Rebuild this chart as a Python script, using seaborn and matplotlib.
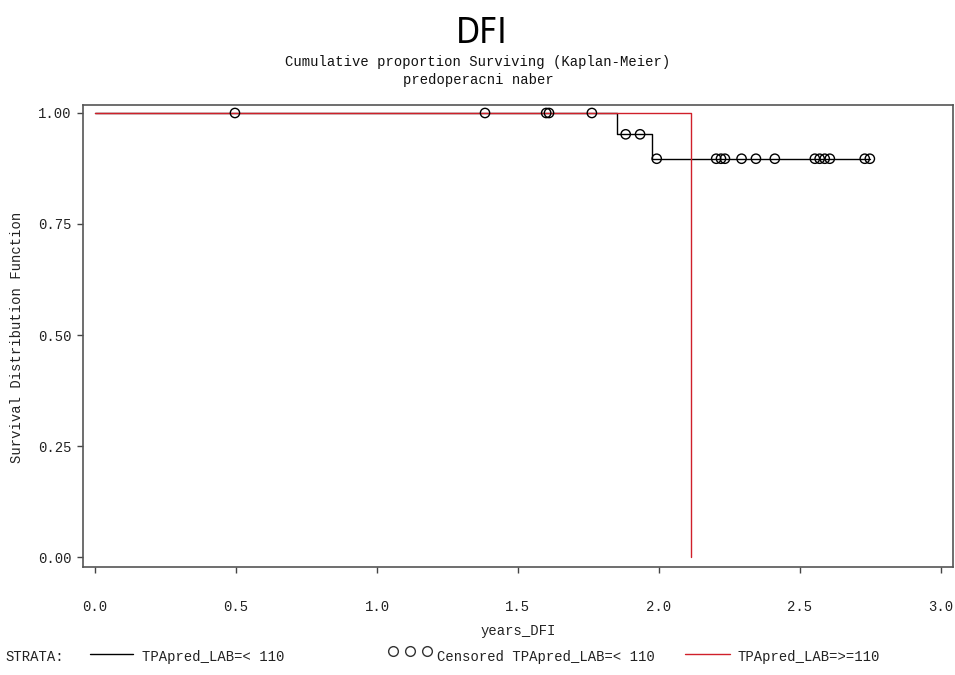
import matplotlib
matplotlib.use("Agg")
import matplotlib.pyplot as plt
from matplotlib.lines import Line2D
import seaborn as sns
import pandas as pd

# ---- data ----
low_times = [0.0, 1.852, 1.977, 2.748]
low_surv = [1.0, 0.952, 0.897, 0.897]
high_times = [0.0, 2.113]
high_surv = [1.0, 0.0]
cens_times = [0.496, 1.383, 1.600, 1.610, 1.762, 1.882, 1.933, 1.992,
              2.203, 2.220, 2.234, 2.293, 2.344, 2.411,
              2.553, 2.570, 2.588, 2.606, 2.730, 2.748]
cens_surv = [1.0, 1.0, 1.0, 1.0, 1.0, 0.952, 0.952, 0.897,
             0.897, 0.897, 0.897, 0.897, 0.897, 0.897,
             0.897, 0.897, 0.897, 0.897, 0.897, 0.897]
x_ticks = [0.0, 0.5, 1.0, 1.5, 2.0, 2.5, 3.0]
x_ticklabels = ["0.0", "0.5", "1.0", "1.5", "2.0", "2.5", "3.0"]
y_ticks = [0.0, 0.25, 0.5, 0.75, 1.0]
y_ticklabels = ["0.00", "0.25", "0.50", "0.75", "1.00"]

sns.set_theme(style="white")
MONO = ["Liberation Mono", "DejaVu Sans Mono"]
plt.rcParams["font.family"] = MONO

W, H = 955, 675
fig = plt.figure(figsize=(W / 100, H / 100), dpi=100)
ax = fig.add_axes([83 / W, 1 - 567 / H, (953 - 83) / W, (567 - 105) / H])

df_low = pd.DataFrame({"t": low_times, "s": low_surv})
df_high = pd.DataFrame({"t": high_times, "s": high_surv})
df_c = pd.DataFrame({"t": cens_times, "s": cens_surv})

sns.lineplot(data=df_low, x="t", y="s", ax=ax, color="black", lw=1.0,
             drawstyle="steps-post", estimator=None, sort=False)
sns.lineplot(data=df_high, x="t", y="s", ax=ax, color="#d0202a", lw=1.0,
             drawstyle="steps-post", estimator=None, sort=False)
sns.scatterplot(data=df_c, x="t", y="s", ax=ax, marker="o", s=45,
                facecolor="none", edgecolor="black", linewidth=1.0, zorder=5)

ax.set_xlim(-0.043, 3.043)
ax.set_ylim(-0.0225, 1.018)
ax.set_xticks(x_ticks)
ax.set_xticklabels(x_ticklabels)
ax.set_yticks(y_ticks)
ax.set_yticklabels(y_ticklabels)
ax.tick_params(axis="both", which="both", direction="out", length=4,
               width=1, color="#444444", labelsize=10, labelcolor="#222222")
ax.tick_params(axis="x", pad=20, bottom=True)
ax.tick_params(axis="y", pad=4, left=True)
for sp in ax.spines.values():
    sp.set_color("#555555")
    sp.set_linewidth(1.2)
ax.set_xlabel("")
ax.set_ylabel("")

# titles
fig.text(482 / W, 1 - 33 / H, "DFI", ha="center", va="center", fontsize=25,
         family=["DejaVu Sans", "Liberation Sans"], fontstretch="condensed",
         color="black")
fig.text(478 / W, 1 - 62 / H, "Cumulative proportion Surviving (Kaplan-Meier)",
         ha="center", va="center", fontsize=10, color="#111111")
fig.text(478 / W, 1 - 80 / H, "predoperacni naber",
         ha="center", va="center", fontsize=10, color="#111111")

# axis labels
fig.text(518 / W, 1 - 631 / H, "years_DFI", ha="center", va="center",
         fontsize=10, color="#222222")
fig.text(17 / W, 1 - 337 / H, "Survival Distribution Function", ha="center",
         va="center", rotation=90, fontsize=10, color="#222222")

# legend
ly = 1 - 657 / H
lly = 1 - 654 / H
fig.text(5 / W, ly, "STRATA:", ha="left", va="center", fontsize=10, color="#222222")
fig.add_artist(Line2D([90 / W, 133 / W], [lly, lly], transform=fig.transFigure,
                      color="black", lw=1.0))
fig.text(142 / W, ly, "TPApred_LAB=< 110", ha="left", va="center", fontsize=10,
         color="#222222")
fig.add_artist(Line2D([393 / W, 410 / W, 427 / W], [1 - 651 / H] * 3,
                      transform=fig.transFigure, color="none", marker="o",
                      markersize=7, markerfacecolor="none",
                      markeredgecolor="#333333", markeredgewidth=1.0))
fig.text(437 / W, ly, "Censored TPApred_LAB=< 110", ha="left", va="center",
         fontsize=10, color="#222222")
fig.add_artist(Line2D([685 / W, 730 / W], [lly, lly], transform=fig.transFigure,
                      color="#d0202a", lw=1.0))
fig.text(737 / W, ly, "TPApred_LAB=>=110", ha="left", va="center", fontsize=10,
         color="#222222")

fig.savefig("out.png", dpi=100, facecolor="white")
